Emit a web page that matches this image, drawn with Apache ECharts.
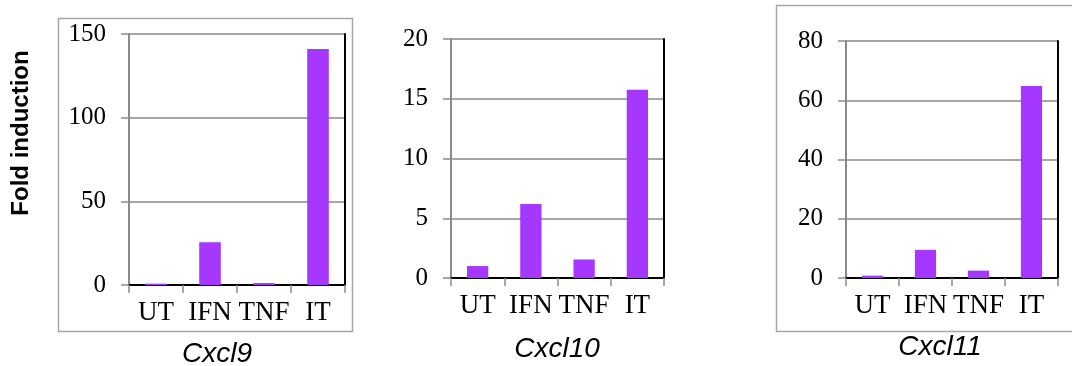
<!DOCTYPE html>
<html><head><meta charset="utf-8">
<script src="https://cdn.jsdelivr.net/npm/echarts@6/dist/echarts.min.js"></script>
<style>html,body{margin:0;padding:0;background:#fff}#c{width:1072px;height:366px}</style>
</head><body><div id="c"></div>
<script>
const categories = ['UT', 'IFN', 'TNF', 'IT'];
const cxcl9 = [0.8, 25.5, 1.2, 141];
const cxcl10 = [1.0, 6.2, 1.55, 15.75];
const cxcl11 = [0.8, 9.5, 2.5, 64.8];
const panelTitles = ['Cxcl9', 'Cxcl10', 'Cxcl11'];
const yMax = [150, 20, 80];
const yStep = [50, 5, 20];
const yAxisTitle = 'Fold induction';

const seriesData = [cxcl9, cxcl10, cxcl11];
const grids = [
  {left: 129, top: 34, width: 216, height: 251},
  {left: 451, top: 39, width: 213, height: 239},
  {left: 846, top: 41, width: 212, height: 237}
];
const titleX = [217, 557, 940];
const titleY = [340, 335, 333];
const barColor = '#a637ff';
const axisGray = '#8a8a8a';
const serif = '"Liberation Serif","Times New Roman",serif';

const xAxes = [], yAxes = [], series = [];
grids.forEach((g, i) => {
  xAxes.push({
    type: 'category', gridIndex: i, data: categories, boundaryGap: true,
    axisLine: {lineStyle: {color: axisGray, width: 2}},
    axisTick: {show: true, length: 8, interval: 0, lineStyle: {color: axisGray, width: 1.5}},
    axisLabel: {color: '#000', fontFamily: serif, fontSize: 27, margin: 14, interval: 0}
  });
  xAxes.push({
    type: 'category', gridIndex: i, data: categories, position: 'top',
    axisLine: {lineStyle: {color: '#000', width: 2}},
    axisTick: {show: false}, axisLabel: {show: false}
  });
  yAxes.push({
    type: 'value', gridIndex: i, min: 0, max: yMax[i], interval: yStep[i],
    axisLine: {show: true, lineStyle: {color: axisGray, width: 2}},
    axisTick: {show: true, length: 8, lineStyle: {color: axisGray, width: 1.5}},
    axisLabel: {color: '#000', fontFamily: serif, fontSize: 25, margin: 23},
    splitLine: {show: true, lineStyle: {color: axisGray, width: 1.5}}
  });
  yAxes.push({
    type: 'value', gridIndex: i, min: 0, max: yMax[i], interval: yStep[i], position: 'right',
    axisLine: {show: true, lineStyle: {color: '#000', width: 2}},
    axisTick: {show: false}, axisLabel: {show: false}, splitLine: {show: false}
  });
  series.push({
    type: 'bar', xAxisIndex: i * 2, yAxisIndex: i * 2, data: seriesData[i],
    barWidth: '40%', itemStyle: {color: barColor}, animation: false, z: 3
  });
});

const graphic = [
  {type: 'rect', shape: {x: 58.5, y: 18.5, width: 294, height: 313}, style: {fill: 'none', stroke: '#a6a6a6', lineWidth: 1.5}, z: -1},
  {type: 'rect', shape: {x: 776.5, y: 5.5, width: 310, height: 326}, style: {fill: 'none', stroke: '#a6a6a6', lineWidth: 1.5}, z: -1},
  {type: 'text', x: 21, y: 133, rotation: Math.PI / 2,
   style: {text: yAxisTitle, font: 'bold 24px "Liberation Sans", Arial, sans-serif', fill: '#000', textAlign: 'center', textVerticalAlign: 'middle'}}
];
panelTitles.forEach((t, i) => {
  graphic.push({type: 'text', x: titleX[i], y: titleY[i],
    style: {text: t, font: 'italic 28px "Liberation Sans", Arial, sans-serif', fill: '#000', textAlign: 'center', textVerticalAlign: 'top'}});
});

const chart = echarts.init(document.getElementById('c'), null, {renderer: 'canvas'});
chart.setOption({
  animation: false,
  grid: grids,
  xAxis: xAxes,
  yAxis: yAxes,
  series: series,
  graphic: graphic
});
</script></body></html>
